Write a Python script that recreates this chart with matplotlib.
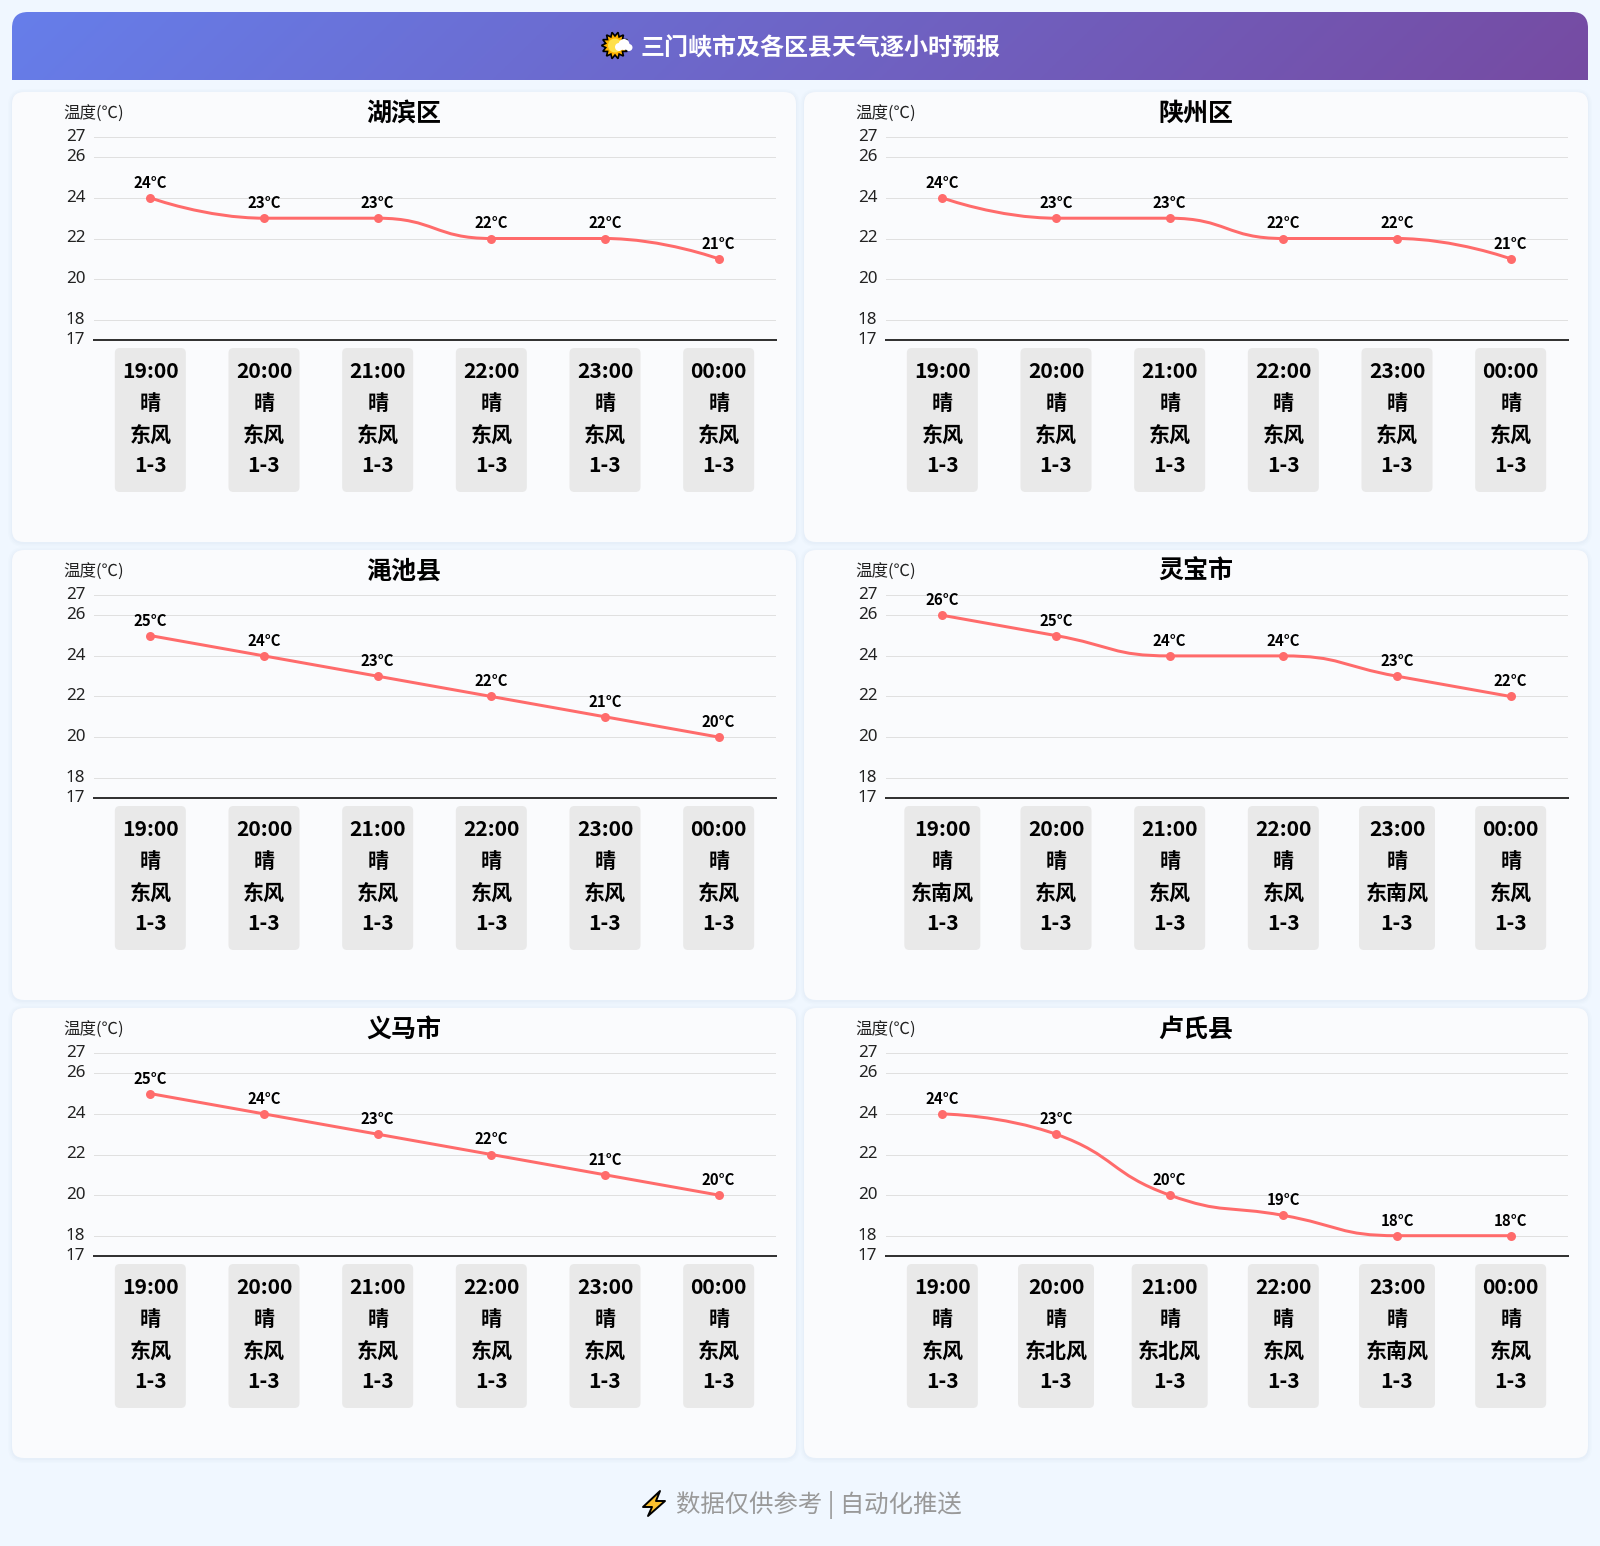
import numpy as np
import matplotlib
matplotlib.use('Agg')
import matplotlib.pyplot as plt
from matplotlib.patches import FancyBboxPatch, PathPatch, Polygon, Circle
from matplotlib.path import Path
from matplotlib.transforms import ScaledTranslation

plt.rcParams['font.family'] = ['Noto Sans', 'Noto Sans CJK SC', 'DejaVu Sans']
CJK = ['Noto Sans CJK SC', 'DejaVu Sans']

# data
title = '三门峡市及各区县天气逐小时预报'
footer = '数据仅供参考 | 自动化推送'
hours = ['19:00', '20:00', '21:00', '22:00', '23:00', '00:00']
weather = ['晴', '晴', '晴', '晴', '晴', '晴']
wind_power = '1-3'
y_ticks = [17, 18, 20, 22, 24, 26, 27]
y_name = '温度(℃)'

names = ['湖滨区', '陕州区', '渑池县', '灵宝市', '义马市', '卢氏县']
temp_hubin = [24, 23, 23, 22, 22, 21]
temp_shanzhou = [24, 23, 23, 22, 22, 21]
temp_mianchi = [25, 24, 23, 22, 21, 20]
temp_lingbao = [26, 25, 24, 24, 23, 22]
temp_yima = [25, 24, 23, 22, 21, 20]
temp_lushi = [24, 23, 20, 19, 18, 18]
temps = [temp_hubin, temp_shanzhou, temp_mianchi, temp_lingbao, temp_yima, temp_lushi]

wind_hubin = ['东风'] * 6
wind_shanzhou = ['东风'] * 6
wind_mianchi = ['东风'] * 6
wind_lingbao = ['东南风', '东风', '东风', '东风', '东南风', '东风']
wind_yima = ['东风'] * 6
wind_lushi = ['东风', '东北风', '东北风', '东风', '东南风', '东风']
winds = [wind_hubin, wind_shanzhou, wind_mianchi, wind_lingbao, wind_yima, wind_lushi]

W, H = 1600, 1546
PX = 0.72  # 1px in pt at dpi 100
STEP = 682 / 6
SCALE_Y = 20.3


def smooth_path(xs, ys, smooth=0.5):
    # 平滑曲线的贝塞尔控制点, 在像素空间里算, 再换回数据坐标
    px = [x * STEP for x in xs]
    py = [y * SCALE_Y for y in ys]
    verts = [(px[0], py[0])]
    codes = [Path.MOVETO]
    cp0 = (px[0], py[0])
    n = len(px)
    for i in range(1, n):
        x, y = px[i], py[i]
        if i == n - 1:
            cp1 = (x, y)
            next_cp = (x, y)
        else:
            x0, y0, x2, y2 = px[i - 1], py[i - 1], px[i + 1], py[i + 1]
            vx, vy = x2 - x0, y2 - y0
            len0 = np.hypot(x - x0, y - y0)
            len1 = np.hypot(x2 - x, y2 - y)
            ratio = len1 / (len1 + len0)
            nx = np.clip(x + vx * smooth * ratio, min(x, x2), max(x, x2))
            ny = np.clip(y + vy * smooth * ratio, min(y, y2), max(y, y2))
            vx, vy = nx - x, ny - y
            cx = np.clip(x - vx * len0 / len1, min(x, x0), max(x, x0))
            cy = np.clip(y - vy * len0 / len1, min(y, y0), max(y, y0))
            cp1 = (cx, cy)
            vx, vy = x - cx, y - cy
            next_cp = (x + vx * len1 / len0, y + vy * len1 / len0)
        verts += [cp0, cp1, (x, y)]
        codes += [Path.CURVE4, Path.CURVE4, Path.CURVE4]
        cp0 = next_cp
    verts = [(a / STEP, b / SCALE_Y) for a, b in verts]
    return Path(verts, codes)


fig = plt.figure(figsize=(W / 100, H / 100), dpi=100, facecolor='#f0f7ff')
bg = fig.add_axes([0, 0, 1, 1], zorder=0)
bg.set_xlim(0, W)
bg.set_ylim(H, 0)
bg.axis('off')

# 顶部渐变标题栏
gx, gy = np.meshgrid(np.linspace(12, 1588, 400), np.linspace(12, 80, 40))
t = ((gx - 800) + (gy - 46)) * 0.7071 / ((1576 + 68) * 0.7071) + 0.5
c0 = np.array([0x66, 0x7e, 0xea]) / 255
c1 = np.array([0x76, 0x4b, 0xa2]) / 255
grad = c0[None, None, :] + (c1 - c0)[None, None, :] * t[:, :, None]
im = bg.imshow(grad, extent=(12, 1588, 80, 12), aspect='auto', zorder=1)
clip = FancyBboxPatch((12, 12), 1576, 100, boxstyle='round,pad=0,rounding_size=16',
                      transform=bg.transData, fc='none', ec='none')
bg.add_patch(clip)
im.set_clip_path(clip)
bg.set_xlim(0, W)
bg.set_ylim(H, 0)
bg.text(820, 48.5, title, color='white', fontsize=24 * PX, fontweight='bold', family=CJK,
        ha='center', va='center', zorder=3)

# 太阳+云图标
a = np.linspace(0, 2 * np.pi, 28, endpoint=False)
r = np.where(np.arange(28) % 2 == 0, 13.5, 9.5)
bg.add_patch(Polygon(np.c_[615 + r * np.cos(a), 45.5 + r * np.sin(a)], closed=True,
                     fc='#ffb300', ec='black', lw=1.2, zorder=3))
bg.add_patch(Circle((615, 45.5), 7, fc='#ffe04a', ec='none', zorder=4))
for cx, cy, cr in [(619, 47, 4), (624, 44.5, 5.5), (629, 47.5, 3.5)]:
    bg.add_patch(Circle((cx, cy), cr, fc='white', ec='none', zorder=5))

# 底部
bg.text(819, 1505, footer, color='#999999', fontsize=24.4 * PX, family=CJK, ha='center', va='center', zorder=3)
bolt = [(660, 1491), (643, 1507), (652, 1507), (648, 1516), (665, 1501), (656, 1501)]
bg.add_patch(Polygon(bolt, closed=True, fc='#fbc02d', ec='black', lw=1.4,
                     joinstyle='round', zorder=3))

for k, name in enumerate(names):
    col, row = k % 2, k // 2
    ox = col * 792
    oy = row * 458

    # 卡片+阴影
    for grow, alpha in [(4, 0.012), (2.5, 0.015), (1, 0.02)]:
        bg.add_patch(FancyBboxPatch((12 + ox - grow, 92 + oy - grow + 1), 784 + 2 * grow, 450 + 2 * grow,
                                    boxstyle='round,pad=0,rounding_size=%g' % (12 + grow),
                                    fc='#3060a0', alpha=alpha, ec='none', zorder=1))
    bg.add_patch(FancyBboxPatch((12 + ox, 92 + oy), 784, 450, boxstyle='round,pad=0,rounding_size=12',
                                fc='#fafbfd', ec='none', zorder=2))

    left = 93.5 + ox
    top = 137 + oy
    ax = fig.add_axes([left / W, 1 - (top + 203) / H, 682 / W, 203 / H], zorder=2)
    ax.patch.set_alpha(0)
    ax.set_xlim(-0.5, 5.5)
    ax.set_ylim(17, 27)
    ax.set_xticks([])
    ax.set_yticks(y_ticks)
    ax.tick_params(axis='y', length=0, pad=6, labelsize=17 * PX, labelcolor='#222222')
    for lab in ax.get_yticklabels():
        lab.set_transform(lab.get_transform() + ScaledTranslation(0, 2 / 72 * PX, fig.dpi_scale_trans))
    ax.grid(axis='y', color='#e0e0e0', lw=1 * PX)
    ax.set_axisbelow(True)
    for s in ['top', 'left', 'right']:
        ax.spines[s].set_visible(False)
    ax.spines['bottom'].set_color('#333333')
    ax.spines['bottom'].set_linewidth(2 * PX)

    x = np.arange(6)
    y = temps[k]
    ax.add_patch(PathPatch(smooth_path(x, y), fc='none', ec='#ff6b6b', lw=3 * PX, clip_on=False, zorder=3))
    ax.plot(x, y, ls='none', marker='o', ms=9 * PX, mfc='#ff6b6b', mec='#ff6b6b', mew=0, clip_on=False, zorder=4)
    for i in range(6):
        ax.annotate('%d°C' % y[i], (x[i], y[i]), xytext=(0, 15 * PX), textcoords='offset points',
                    ha='center', va='center', fontsize=15 * PX, fontweight='bold', family=CJK, color='black')

    bg.text(94 + ox, 114.5 + oy, y_name, fontsize=16.5 * PX, family=CJK, color='#222222',
            ha='center', va='center', zorder=3)
    bg.text(404 + ox, 113.5 + oy, name, fontsize=25 * PX, fontweight='bold', family=CJK, color='black',
            ha='center', va='center', zorder=3)

    # 每小时的灰色信息块
    for i in range(6):
        cx = left + (i + 0.5) * STEP
        w = 76 if len(winds[k][i]) == 3 else 71
        bg.add_patch(FancyBboxPatch((cx - w / 2, 348 + oy), w, 144, boxstyle='round,pad=0,rounding_size=5',
                                    fc='#e9e9e9', ec='none', zorder=3))
        lines = [hours[i], weather[i], winds[k][i], wind_power]
        for txt, ly in zip(lines, [371, 403, 435, 466]):
            bg.text(cx, ly + oy, txt, fontsize=21 * PX, fontweight='bold', family=CJK, color='black',
                    ha='center', va='center', zorder=4)

fig.savefig('out.png', dpi=100, facecolor=fig.get_facecolor())
